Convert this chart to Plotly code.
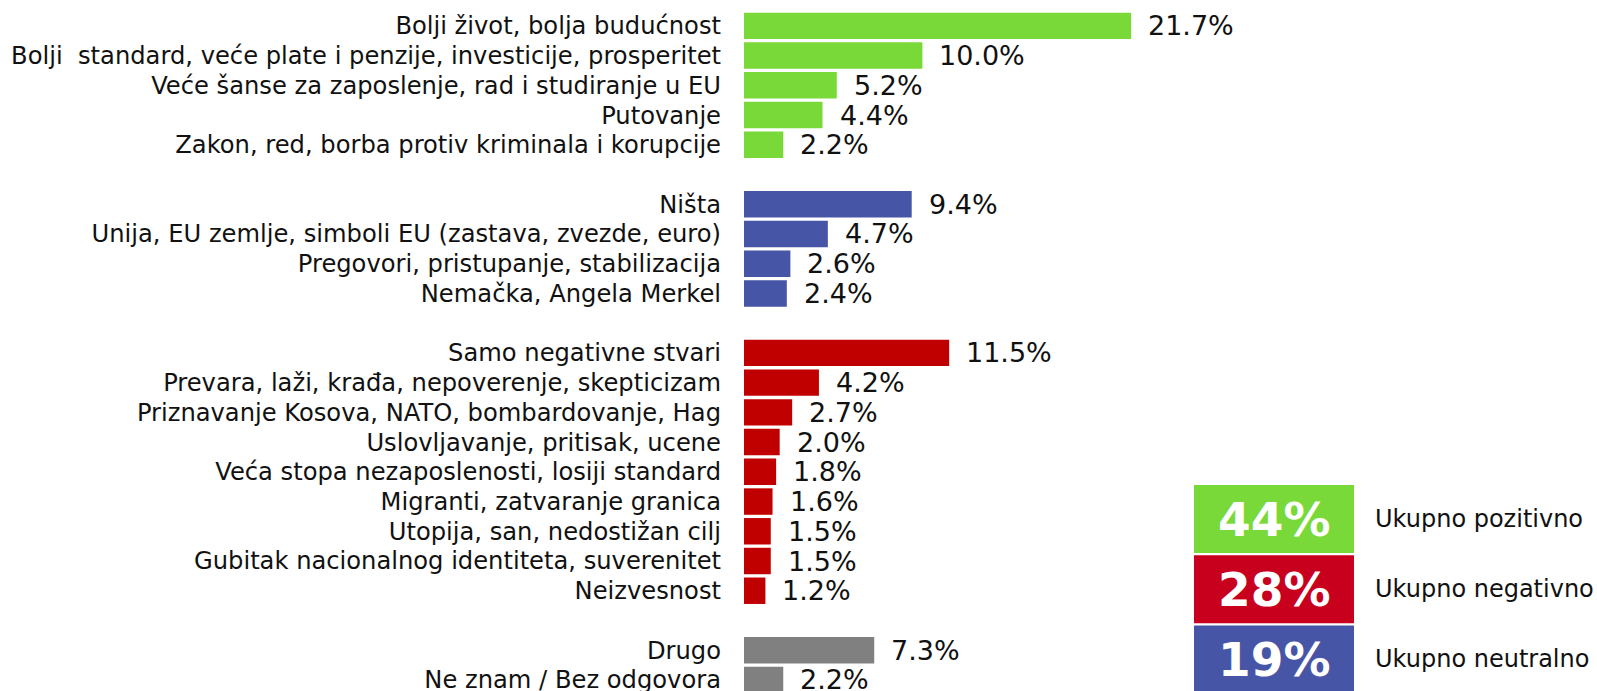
import plotly.graph_objects as go

# ---- data ----
cat_positive = ["Bolji život, bolja budućnost",
                "Bolji  standard, veće plate i penzije, investicije, prosperitet",
                "Veće šanse za zaposlenje, rad i studiranje u EU",
                "Putovanje",
                "Zakon, red, borba protiv kriminala i korupcije"]
val_positive = [21.7, 10.0, 5.2, 4.4, 2.2]
cat_neutral = ["Ništa",
               "Unija, EU zemlje, simboli EU (zastava, zvezde, euro)",
               "Pregovori, pristupanje, stabilizacija",
               "Nemačka, Angela Merkel"]
val_neutral = [9.4, 4.7, 2.6, 2.4]
cat_negative = ["Samo negativne stvari",
                "Prevara, laži, krađa, nepoverenje, skepticizam",
                "Priznavanje Kosova, NATO, bombardovanje, Hag",
                "Uslovljavanje, pritisak, ucene",
                "Veća stopa nezaposlenosti, losiji standard",
                "Migranti, zatvaranje granica",
                "Utopija, san, nedostižan cilj",
                "Gubitak nacionalnog identiteta, suverenitet",
                "Neizvesnost"]
val_negative = [11.5, 4.2, 2.7, 2.0, 1.8, 1.6, 1.5, 1.5, 1.2]
cat_other = ["Drugo", "Ne znam / Bez odgovora"]
val_other = [7.3, 2.2]

total_labels = ["Ukupno pozitivno", "Ukupno negativno", "Ukupno neutralno"]
total_values = [44, 28, 19]

# ---- styles ----
colors = {"positive": "#78D939", "neutral": "#4755A6", "negative": "#C00000", "other": "#808080"}
box_colors = ["#78D939", "#C8001E", "#4755A6"]
FONT = "'DejaVu Sans', Verdana, sans-serif"

W, H = 1597, 691
ML, MT, MB, MR = 744, 11, 0, 0
PX_PER_UNIT = 17.84
ROW = 29.73

fig = go.Figure()
series = [(cat_positive, val_positive, "positive"), (cat_neutral, val_neutral, "neutral"),
          (cat_negative, val_negative, "negative"), (cat_other, val_other, "other")]
pos = 0
tickvals, ticktext = [], []
for cats, vals, g in series:
    ys = list(range(pos, pos + len(cats)))
    fig.add_trace(go.Bar(x=vals, y=ys, orientation="h", marker_color=colors[g],
                         marker_line_width=0, width=0.89, hoverinfo="skip"))
    for y, c, v in zip(ys, cats, vals):
        tickvals.append(y)
        ticktext.append(c)
        fig.add_annotation(x=v, y=y, text=f"{v:.1f}%", showarrow=False, xanchor="left",
                           xshift=15, font=dict(size=27, color="#111", family=FONT))
    pos += len(cats) + 1

plot_h = H - MT - MB
n_rows = plot_h / ROW
fig.update_yaxes(range=[-0.5 + n_rows, -0.5], tickvals=tickvals, ticktext=ticktext,
                 showgrid=False, zeroline=False, showline=False, ticks="",
                 ticklabeloverflow="allow",
                 ticklabelstandoff=22, tickfont=dict(size=24.2, color="#111", family=FONT))
fig.update_xaxes(range=[0, (W - ML - MR) / PX_PER_UNIT], visible=False)

# summary boxes (pixel positions -> paper)
def px_x(px):
    return (px - ML) / (W - ML - MR)

def px_y(py):
    return (H - MB - py) / plot_h

box_x0, box_x1 = 1194, 1354
box_top, box_h, box_pitch = 485, 68, 70.2
for i, (lab, tv) in enumerate(zip(total_labels, total_values)):
    t = box_top + i * box_pitch
    b = t + box_h
    fig.add_shape(type="rect", xref="paper", yref="paper", x0=px_x(box_x0), x1=px_x(box_x1),
                  y0=px_y(b), y1=px_y(t), fillcolor=box_colors[i], line_width=0, layer="above")
    fig.add_annotation(xref="paper", yref="paper", x=px_x((box_x0 + box_x1) / 2), y=px_y(t + 34),
                       text=f"<b>{tv}%</b>", showarrow=False, xanchor="center", yanchor="middle",
                       font=dict(size=47, color="white", family=FONT))
    fig.add_annotation(xref="paper", yref="paper", x=px_x(1373), y=px_y(t + 34),
                       text=lab, showarrow=False, xanchor="left", yanchor="middle",
                       font=dict(size=24, color="#111", family=FONT))

fig.update_layout(width=W, height=H, margin=dict(l=ML, r=MR, t=MT, b=MB, autoexpand=False),
                  plot_bgcolor="white", paper_bgcolor="white", showlegend=False, bargap=0.1)
fig.write_html("out.html", config={"displayModeBar": False},
               post_script="document.body.style.margin='0px';")
